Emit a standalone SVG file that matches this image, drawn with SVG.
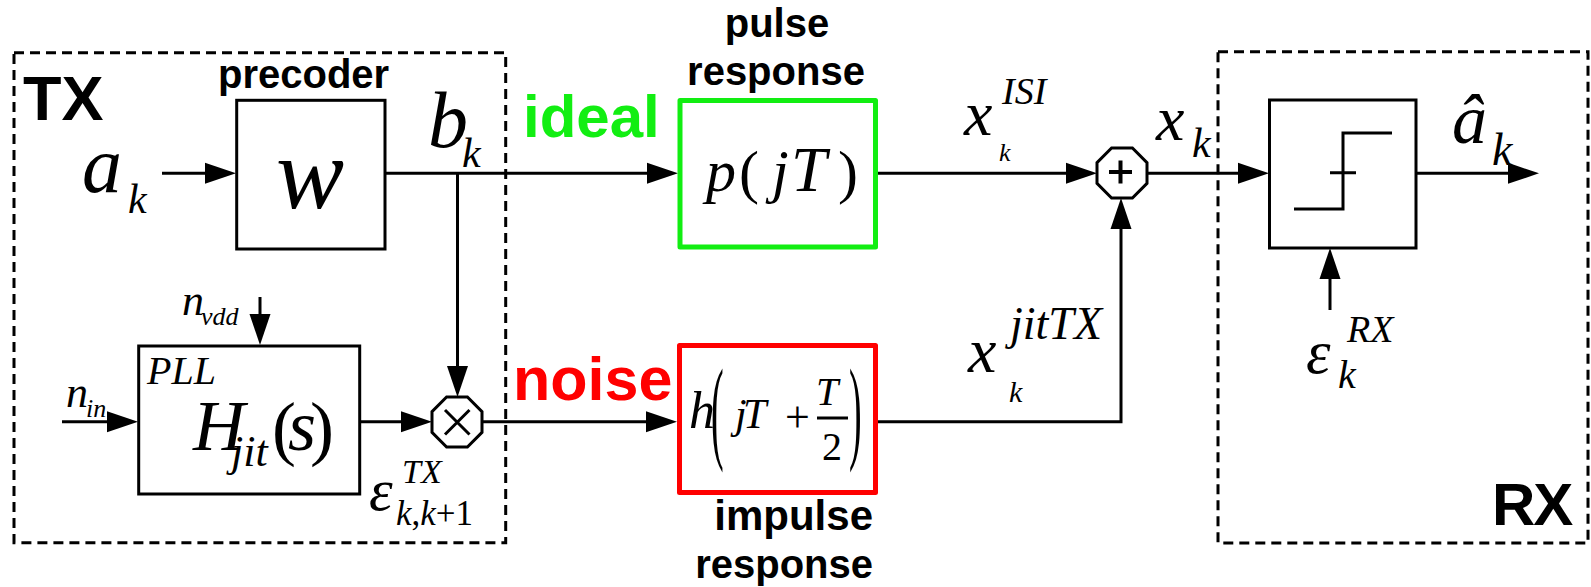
<svg xmlns="http://www.w3.org/2000/svg" width="1591" height="587" viewBox="0 0 1591 587">
<style>
.m{font-family:"Liberation Serif","Times New Roman",serif;font-style:italic;fill:#000}
.r{font-family:"Liberation Serif","Times New Roman",serif;font-style:normal;fill:#000}
.b{font-family:"Liberation Sans",Arial,sans-serif;font-weight:bold;fill:#000}
.box{fill:#fff;stroke:#000;stroke-width:3}
.dash{fill:none;stroke:#000;stroke-width:3;stroke-dasharray:10 6}
.wire{fill:none;stroke:#000;stroke-width:3}
.arr{fill:none;stroke:#000;stroke-width:3;marker-end:url(#ah)}
</style>
<defs>
<marker id="ah" markerUnits="userSpaceOnUse" markerWidth="31" markerHeight="21" refX="21" refY="10.5" orient="auto" overflow="visible">
<path d="M0,0 L31,10.5 L0,21 Z" fill="#000"/>
</marker>
<polygon id="oct" points="25,10.4 10.4,25 -10.4,25 -25,10.4 -25,-10.4 -10.4,-25 10.4,-25 25,-10.4" fill="#fff" stroke="#000" stroke-width="3"/>
</defs>

<g id="tx-region">
<rect class="dash" x="14" y="52.7" width="491.7" height="490"/>
<text class="b" x="23" y="120" font-size="63">TX</text>
</g>
<g id="rx-region">
<rect class="dash" x="1218" y="51.7" width="370" height="491.3"/>
<text class="b" x="1492" y="525" font-size="60" letter-spacing="-2">RX</text>
</g>

<g id="connectors">
<path class="arr" d="M162,173.3 H226"/>
<path class="arr" d="M385,173.3 H668"/>
<path class="arr" d="M457.5,173.3 V387"/>
<path class="arr" d="M260,297 V335"/>
<path class="arr" d="M62,421.7 H128"/>
<path class="arr" d="M359.7,421.7 H422"/>
<path class="arr" d="M482,421.7 H667"/>
<path class="arr" d="M877,173.3 H1087"/>
<path class="arr" d="M877,421.7 H1121 V208"/>
<path class="arr" d="M1147,173.3 H1259"/>
<path class="arr" d="M1416,173.3 H1529"/>
<path class="arr" d="M1330,310 V258"/>
</g>

<g id="input-a">
<text class="m" x="82" y="192" font-size="80">a</text>
<text class="m" x="128" y="213" font-size="42">k</text>
</g>

<g id="precoder">
<text class="b" x="218" y="88" font-size="40">precoder</text>
<rect class="box" x="236.7" y="100.3" width="148.3" height="148.7"/>
<text class="m" x="310" y="208" font-size="102" text-anchor="middle">w</text>
</g>

<g id="label-b">
<text class="m" x="428" y="147" font-size="80">b</text>
<text class="m" x="462" y="167" font-size="42">k</text>
</g>

<g id="pll">
<rect class="box" x="138.7" y="346" width="221" height="148"/>
<text class="m" x="147" y="384" font-size="40">PLL</text>
<text class="m" x="193" y="450" font-size="72">H</text>
<text class="m" x="231" y="466" font-size="44">jit</text>
<text class="r" x="272" y="452" font-size="72">(</text>
<text class="m" x="288" y="450" font-size="72">s</text>
<text class="r" x="310" y="452" font-size="72">)</text>
</g>

<g id="n-vdd">
<text class="m" x="182" y="315" font-size="44">n</text>
<text class="m" x="201" y="325" font-size="26">vdd</text>
</g>
<g id="n-in">
<text class="m" x="66" y="407" font-size="44">n</text>
<text class="m" x="86" y="417" font-size="26">in</text>
</g>

<g id="multiplier">
<use href="#oct" transform="translate(457,422)"/>
<path class="wire" d="M445,410 L469.5,434.5 M469.5,410 L445,434.5"/>
</g>

<g id="eps-tx">
<text class="m" x="369" y="510" font-size="60">ε</text>
<text class="m" x="402" y="483" font-size="34">TX</text>
<text class="m" x="396" y="525" font-size="35">k<tspan class="r">,</tspan>k<tspan class="r">+1</tspan></text>
</g>

<g id="pulse-response">
<text class="b" x="777" y="37" font-size="40" text-anchor="middle">pulse</text>
<text class="b" x="776" y="85" font-size="40" text-anchor="middle">response</text>
<text class="b" x="523" y="137" font-size="60" style="fill:#12ee12">ideal</text>
<rect x="680" y="100.5" width="195.5" height="146.5" fill="#fff" stroke="#12ee12" stroke-width="5" stroke-linejoin="round"/>
<text class="m" x="706" y="191" font-size="60">p</text>
<text class="r" x="739" y="192" font-size="60">(</text>
<text class="m" x="772" y="191" font-size="60">j</text>
<text class="m" x="791" y="191" font-size="64">T</text>
<text class="r" x="838" y="192" font-size="60">)</text>
</g>

<g id="impulse-response">
<text class="b" x="513" y="400" font-size="61" style="fill:#ff0000">noise</text>
<rect x="679.5" y="345.5" width="196" height="147" fill="#fff" stroke="#ff0000" stroke-width="5" stroke-linejoin="round"/>
<text class="m" x="689" y="428" font-size="52">h</text>
<text class="r" font-size="115" transform="translate(711,448) scale(0.33,1)">(</text>
<text class="m" x="735" y="428" font-size="42">j</text>
<text class="m" x="743" y="428" font-size="42">T</text>
<text class="r" x="785" y="432" font-size="44">+</text>
<text class="m" x="816" y="405" font-size="40">T</text>
<path class="wire" d="M817,418 H848" stroke-width="2"/>
<text class="r" x="822" y="460" font-size="40">2</text>
<text class="r" font-size="115" transform="translate(849,448) scale(0.33,1)">)</text>
<text class="b" x="873" y="530" font-size="42" text-anchor="end">impulse</text>
<text class="b" x="873" y="578" font-size="40" text-anchor="end">response</text>
</g>

<g id="label-xisi">
<text class="m" x="964" y="135" font-size="64">x</text>
<text class="m" x="1002" y="104" font-size="38">ISI</text>
<text class="m" x="999" y="161" font-size="26">k</text>
</g>

<g id="label-xjit">
<text class="m" x="968" y="372" font-size="64">x</text>
<text class="m" x="1010" y="339" font-size="46">jitTX</text>
<text class="m" x="1009" y="402" font-size="30">k</text>
</g>

<g id="adder">
<use href="#oct" transform="translate(1122,173)"/>
<path d="M1109,172 H1132 M1120.5,160.5 V183.5" fill="none" stroke="#000" stroke-width="4"/>
</g>

<g id="label-xk">
<text class="m" x="1156" y="140" font-size="64">x</text>
<text class="m" x="1192" y="157" font-size="42">k</text>
</g>

<g id="decision">
<rect class="box" x="1269.5" y="100" width="146.5" height="148"/>
<path class="wire" d="M1294,209 H1343 V133 H1392 M1330,172.7 H1356"/>
</g>

<g id="output-a">
<text class="m" x="1452" y="143" font-size="70">â</text>
<text class="m" x="1492" y="165" font-size="46">k</text>
</g>

<g id="eps-rx">
<text class="m" x="1306" y="373" font-size="62">ε</text>
<text class="m" x="1347" y="342" font-size="38">RX</text>
<text class="m" x="1338" y="388" font-size="40">k</text>
</g>
</svg>
